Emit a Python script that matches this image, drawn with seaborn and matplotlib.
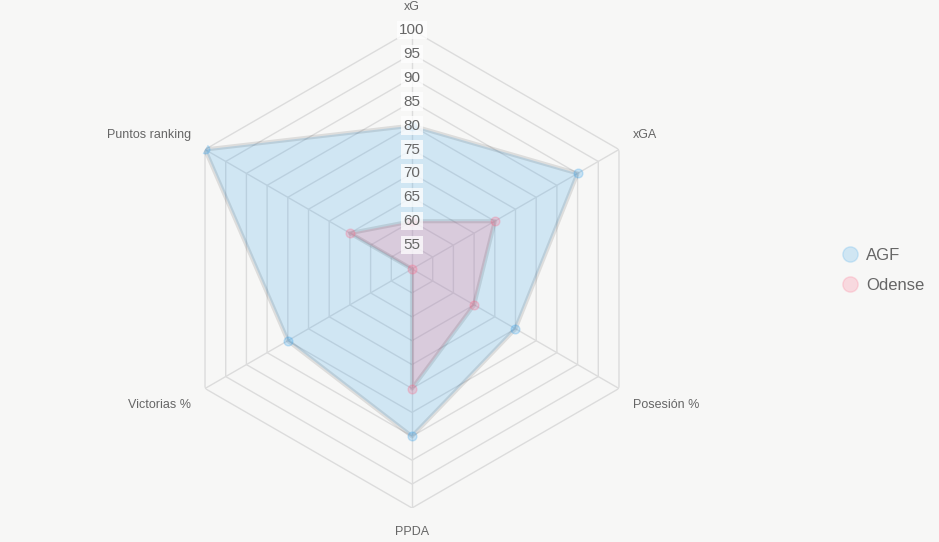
import numpy as np
import matplotlib
matplotlib.use("Agg")
import matplotlib.pyplot as plt
from matplotlib.lines import Line2D
import seaborn as sns

# Data
categories = ["xG", "xGA", "Posesión %", "PPDA", "Victorias %", "Puntos ranking"]
agf = [80, 90, 75, 85, 80, 100]
odense = [60, 70, 65, 75, 50, 65]
ticks = [55, 60, 65, 70, 75, 80, 85, 90, 95, 100]

sns.set_theme(style="white")
plt.rcParams["font.family"] = ["Liberation Sans", "DejaVu Sans"]

bg = "#f7f7f6"
fig = plt.figure(figsize=(9.39, 5.42), dpi=100, facecolor=bg)
cx, cy, rad = 412, 269, 239
W, H = 939, 542
ax = fig.add_axes([(cx - rad) / W, (H - cy - rad) / H, 2 * rad / W, 2 * rad / H],
                  projection="polar")
ax.set_facecolor("none")
ax.set_theta_zero_location("N")
ax.set_theta_direction(-1)
ax.set_ylim(50, 100)
ax.grid(False)
ax.spines["polar"].set_visible(False)
ax.set_xticks([])
ax.set_yticks([])

n = len(categories)
theta = np.deg2rad(np.arange(n) * 360 / n)
theta_c = np.append(theta, theta[0])

# polygon grid
for t in ticks:
    ax.plot(theta_c, [t] * (n + 1), color="#dcdcdc", lw=1, zorder=1)
for th in theta:
    ax.plot([th, th], [50, 100], color="#dcdcdc", lw=1, zorder=1)

series = [("AGF", agf, (54 / 255, 162 / 255, 235 / 255)),
          ("Odense", odense, (255 / 255, 99 / 255, 132 / 255))]
for name, vals, col in series:
    v = np.append(vals, vals[0])
    ax.fill(theta_c, v, color=col, alpha=0.2, lw=0, zorder=2)
    ax.plot(theta_c, v, color=(0, 0, 0, 0.1), lw=3, zorder=3)
    sns.scatterplot(x=theta, y=vals, ax=ax, s=40, color=col, alpha=0.25,
                    edgecolor=col, linewidth=1, zorder=4, legend=False)

# tick labels
for t in ticks:
    ax.text(0, t, str(t), ha="center", va="center", fontsize=11, color="#666666",
            zorder=5, bbox=dict(boxstyle="square,pad=0.15", fc=(1, 1, 1, 0.75), ec="none"))

# point labels
for th, lab in zip(theta, categories):
    s, c = np.sin(th), np.cos(th)
    if abs(s) < 0.01:
        ha, off = "center", (0, 23 if c > 0 else -24)
    elif s > 0:
        ha, off = "left", (14, 14.5 if c > 0 else -16)
    else:
        ha, off = "right", (-14, 14.5 if c > 0 else -16)
    ax.annotate(lab, xy=(th, 100), xytext=off, textcoords="offset pixels",
                ha=ha, va="center", fontsize=9, color="#666666", annotation_clip=False)

handles = [Line2D([0], [0], marker="o", ls="none", markersize=11,
                  markerfacecolor=(*c, 0.2), markeredgecolor=(*c, 0.2))
           for _, _, c in series]
fig.legend(handles, [s[0] for s in series], loc="center left",
           bbox_to_anchor=(818 / W, 1 - 270.5 / H), frameon=False, fontsize=12,
           labelcolor="#666666", handletextpad=0.0, labelspacing=0.9)

fig.savefig("out.png", dpi=100, facecolor=bg)
